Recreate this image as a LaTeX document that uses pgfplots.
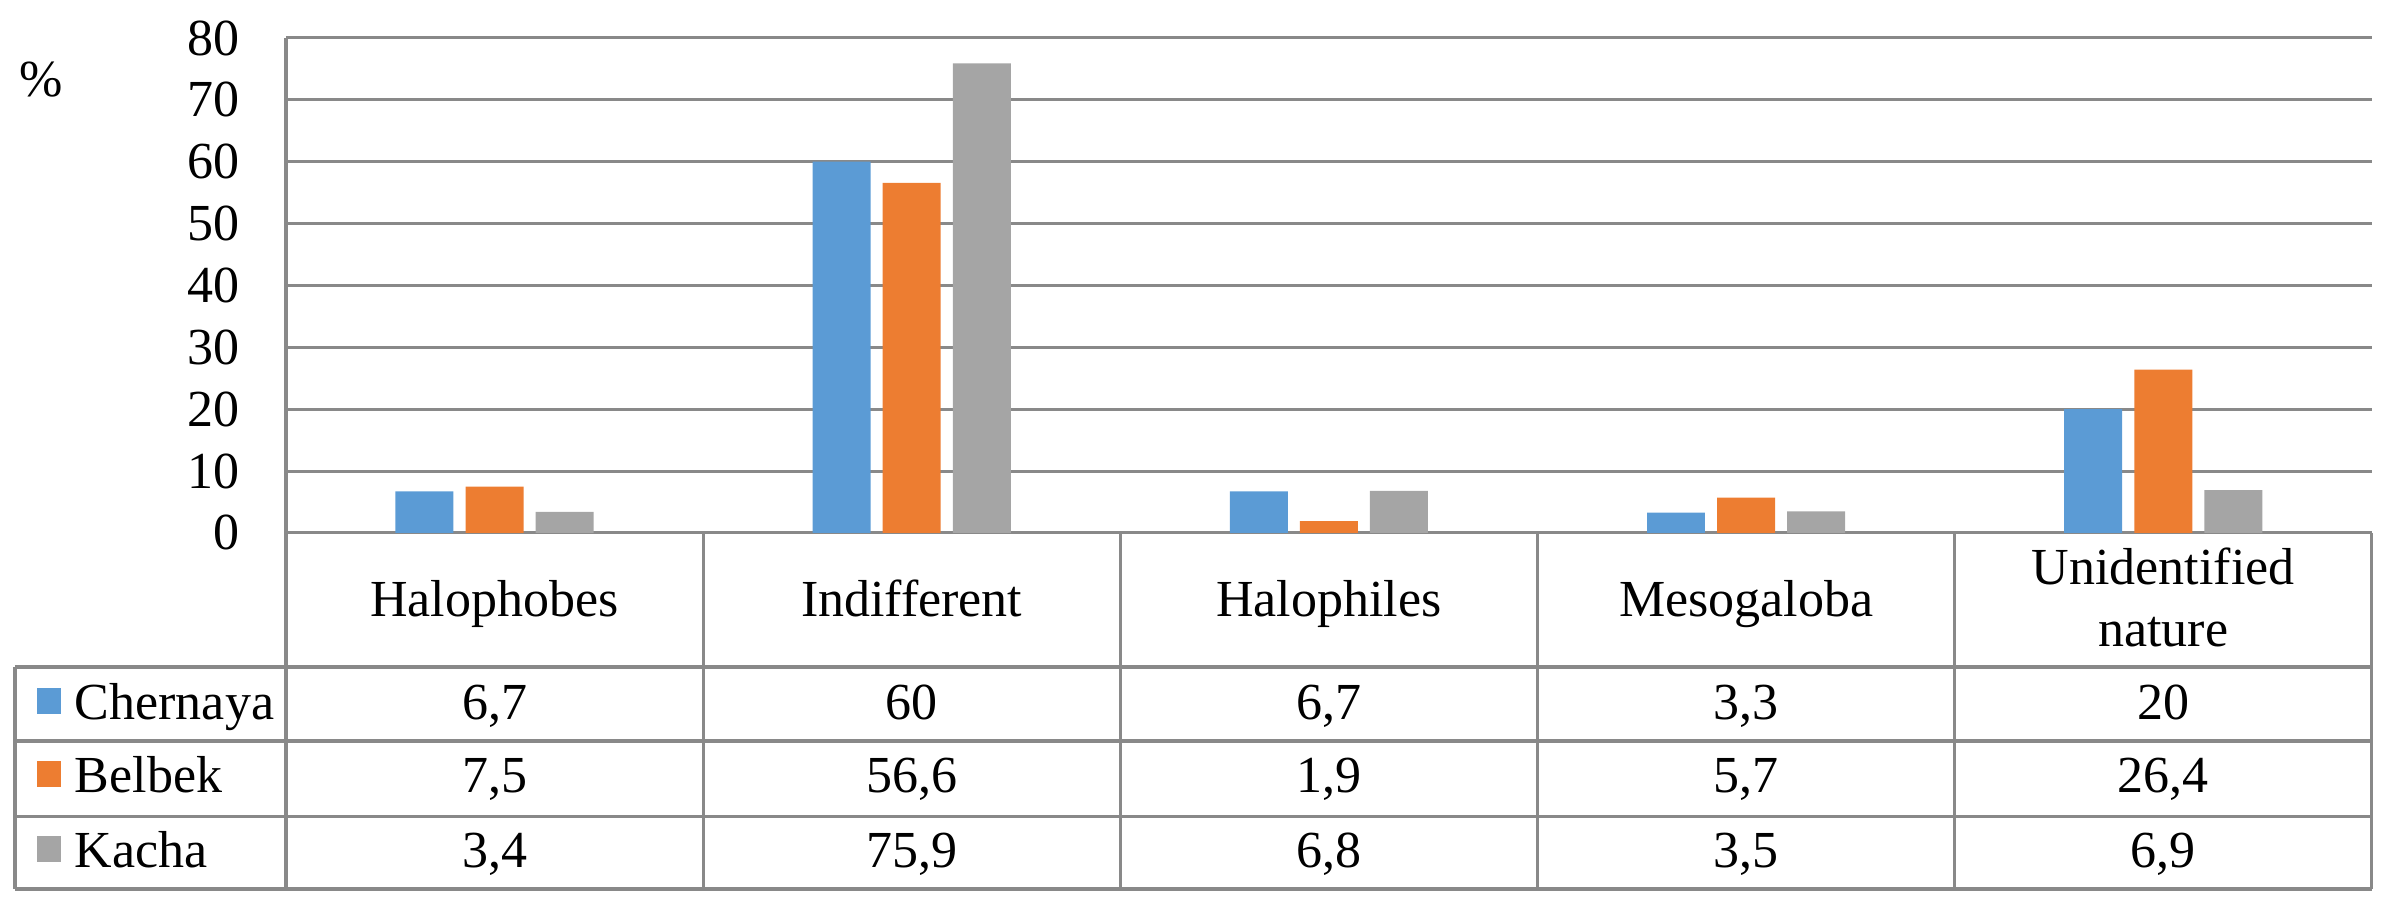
\documentclass[border=0pt]{standalone}
\usepackage{fontspec}
\setmainfont{Liberation Serif}
\usepackage{pgfplots}
\pgfplotsset{compat=1.18}
\definecolor{cA}{RGB}{91,155,213}
\definecolor{cB}{RGB}{237,125,49}
\definecolor{cC}{RGB}{165,165,165}
\definecolor{gridc}{RGB}{137,137,137}
\begin{document}
\fontsize{13}{15.5}\selectfont
\begin{tikzpicture}[font=\fontsize{13}{15.5}\selectfont]
\begin{axis}[
 scale only axis, width=521.5pt, height=123.75pt,
 xmin=-0.5, xmax=4.5, ymin=0, ymax=80,
 ybar, bar width=0.139,
 xtick=\empty, ytick={0,10,...,80},
 ymajorgrids, grid style={gridc, line width=0.75pt},
 axis line style={draw=none},
 major tick length=0pt,
 tick label style={font=\fontsize{13}{15.5}\selectfont},
 yticklabel style={xshift=-7.1pt},
 /pgf/number format/assume math mode=true,
 clip=false,
]
\addplot[fill=cA, draw=none, bar shift=-0.168] coordinates {(0,6.7)(1,60)(2,6.7)(3,3.3)(4,20)};
\addplot[fill=cB, draw=none, bar shift=0] coordinates {(0,7.5)(1,56.6)(2,1.9)(3,5.7)(4,26.4)};
\addplot[fill=cC, draw=none, bar shift=0.168] coordinates {(0,3.4)(1,75.9)(2,6.8)(3,3.5)(4,6.9)};
% table lines
\draw[gridc, line width=0.8pt] (axis cs:-0.5,80) -- (axis cs:-0.5,-57.54);
\draw[gridc, line width=0.8pt] (axis cs:0.5,0) -- (axis cs:0.5,-57.54);
\draw[gridc, line width=0.8pt] (axis cs:1.5,0) -- (axis cs:1.5,-57.54);
\draw[gridc, line width=0.8pt] (axis cs:2.5,0) -- (axis cs:2.5,-57.54);
\draw[gridc, line width=0.8pt] (axis cs:3.5,0) -- (axis cs:3.5,-57.54);
\draw[gridc, line width=0.8pt] (axis cs:4.5,0) -- (axis cs:4.5,-57.54);
\draw[gridc, line width=0.8pt] (axis cs:-1.1496,-21.66) -- (axis cs:4.5,-21.66);
\draw[gridc, line width=0.8pt] (axis cs:-1.1496,-33.62) -- (axis cs:4.5,-33.62);
\draw[gridc, line width=0.8pt] (axis cs:-1.1496,-45.90) -- (axis cs:4.5,-45.90);
\draw[gridc, line width=0.8pt] (axis cs:-1.1496,-57.54) -- (axis cs:4.5,-57.54);
\draw[gridc, line width=0.8pt] (axis cs:-1.1496,-21.66) -- (axis cs:-1.1496,-57.54);
% category names
\node[anchor=base] at (axis cs:0,-13.58) {Halophobes};
\node[anchor=base] at (axis cs:1,-13.58) {Indifferent};
\node[anchor=base] at (axis cs:2,-13.58) {Halophiles};
\node[anchor=base] at (axis cs:3,-13.58) {Mesogaloba};
\node[anchor=base] at (axis cs:4,-8.40) {Unidentified};
\node[anchor=base] at (axis cs:4,-18.40) {nature};
% legend keys
\fill[cA] (axis cs:-1.0968,-25.05) rectangle (axis cs:-1.0393,-29.25);
\fill[cB] (axis cs:-1.0968,-36.85) rectangle (axis cs:-1.0393,-41.05);
\fill[cC] (axis cs:-1.0968,-48.95) rectangle (axis cs:-1.0393,-53.15);
\node[anchor=base west, inner sep=0pt] at (axis cs:-1.008,-30.22) {Chernaya};
\node[anchor=base west, inner sep=0pt] at (axis cs:-1.008,-42.02) {Belbek};
\node[anchor=base west, inner sep=0pt] at (axis cs:-1.008,-54.14) {Kacha};
% values
\node[anchor=base] at (axis cs:0,-30.22) {6,7};
\node[anchor=base] at (axis cs:1,-30.22) {60};
\node[anchor=base] at (axis cs:2,-30.22) {6,7};
\node[anchor=base] at (axis cs:3,-30.22) {3,3};
\node[anchor=base] at (axis cs:4,-30.22) {20};
\node[anchor=base] at (axis cs:0,-42.02) {7,5};
\node[anchor=base] at (axis cs:1,-42.02) {56,6};
\node[anchor=base] at (axis cs:2,-42.02) {1,9};
\node[anchor=base] at (axis cs:3,-42.02) {5,7};
\node[anchor=base] at (axis cs:4,-42.02) {26,4};
\node[anchor=base] at (axis cs:0,-54.14) {3,4};
\node[anchor=base] at (axis cs:1,-54.14) {75,9};
\node[anchor=base] at (axis cs:2,-54.14) {6,8};
\node[anchor=base] at (axis cs:3,-54.14) {3,5};
\node[anchor=base] at (axis cs:4,-54.14) {6,9};
\node[anchor=base] at (axis cs:-1.0872,70.47) {\%};
\coordinate (BL) at (axis cs:-1.1855,-60.44);
\coordinate (TR) at (axis cs:4.5436,86.14);
\end{axis}
\pgfresetboundingbox
\useasboundingbox (BL) rectangle (TR);
\end{tikzpicture}
\end{document}
